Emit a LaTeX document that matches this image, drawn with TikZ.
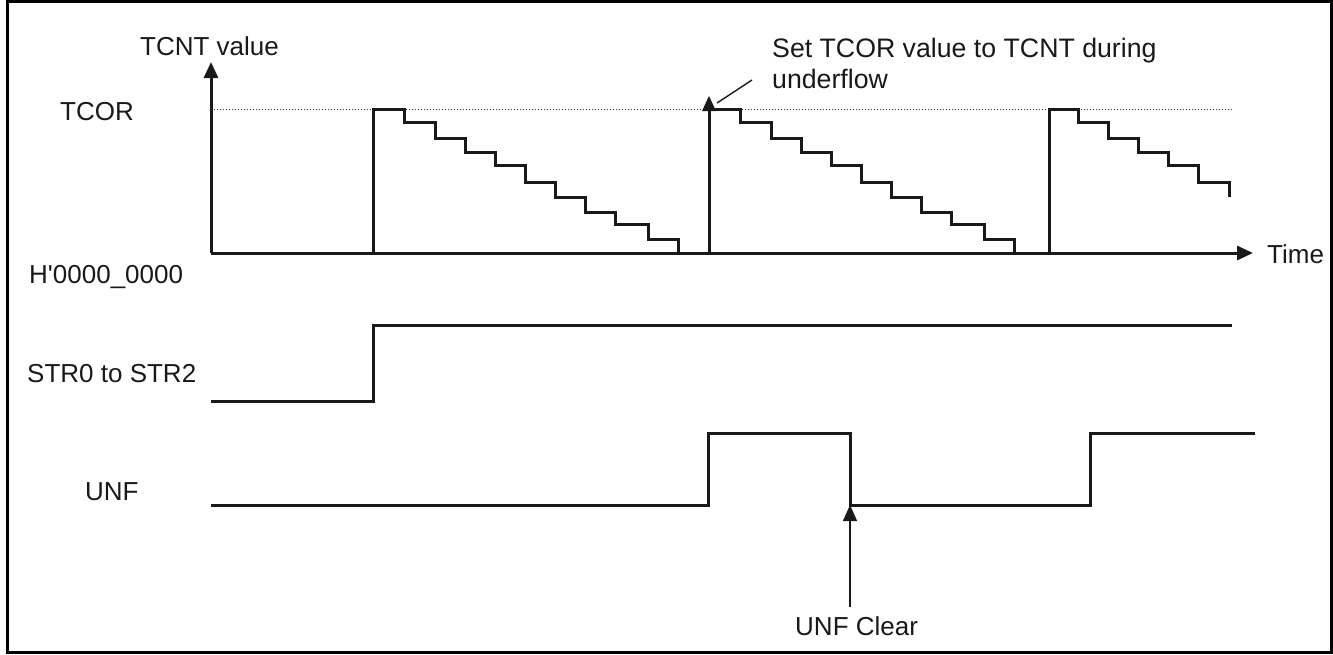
\documentclass[tikz,border=0pt]{standalone}
\usepackage{fontspec}
\setmainfont{Liberation Sans}
\newfontfamily\lsans{Liberation Sans}
\usetikzlibrary{arrows.meta}
\tikzset{
  sig/.style={line width=3pt, line join=miter, color=black!90},
  axis/.style={line width=3pt, -{Triangle[length=16pt,width=14pt]}, color=black!90},
  lead/.style={line width=1.4pt, color=black!90},
  ref/.style={dotted, line width=1pt, color=black!80},
  lbl/.style={anchor=base west, inner sep=0pt, font=\lsans\fontsize{26}{31}\selectfont, text=black!90},
}
\begin{document}
\begin{tikzpicture}[x=1pt,y=-1pt]
\useasboundingbox (0,0) rectangle (1333,654);
\draw[line width=2.5pt] (7.5,1.5) rectangle (1331.5,652.5);
% axes
\coordinate (O) at (211,253);
\coordinate (Ytip) at (211,62);
\coordinate (Xtip) at (1253,253);
\draw[ref] (211,109) -- (1232,109);
\draw[axis] (O) -- (Ytip);
\draw[axis] (O) -- (Xtip);
% ramps
\foreach \s in {0,336}{
\draw[sig, shift={(\s,0)}] (373,253) -- (373,109) -- (404,109) -- (404,122) -- (435,122) -- (435,138) -- (465,138) -- (465,152) -- (495,152) -- (495,165) -- (525,165) -- (525,182) -- (555,182) -- (555,197) -- (585,197) -- (585,212) -- (615,212) -- (615,224) -- (648,224) -- (648,239) -- (678,239) -- (678,253);
}
\draw[sig] (1049,253) -- (1049,109) -- (1078,109) -- (1078,122) -- (1108,122) -- (1108,138) -- (1138,138) -- (1138,152) -- (1168,152) -- (1168,165) -- (1198,165) -- (1198,182) -- (1229,182) -- (1229,197);
% underflow arrowhead + leader
\fill[black!90] (709,96) -- (702,111) -- (716,111) -- cycle;
\coordinate (Lead) at (752,80);
\coordinate (LeadEnd) at (717,103);
\draw[lead] (Lead) -- (LeadEnd);
% STR
\draw[sig] (211,401) -- (373,401) -- (373,325) -- (1232,325);
% UNF
\draw[sig] (211,505) -- (708,505) -- (708,433) -- (850,433) -- (850,505) -- (1090,505) -- (1090,433) -- (1255,433);
\coordinate (Clr) at (850,607);
\coordinate (ClrTip) at (850,505);
\draw[lead, -{Triangle[length=16pt,width=14pt]}] (Clr) -- (ClrTip);
% labels
\node[lbl] (tcnt) at (140,55) {TCNT value};
\node[lbl] (tcor) at (60,120) {TCOR};
\node[lbl] (zero) at (29,283) {H'0000\_0000};
\node[lbl] (str) at (27,382) {STR0 to STR2};
\node[lbl] (unf) at (85,500) {UNF};
\node[lbl, font=\lsans\fontsize{26.7}{31}\selectfont] (set1) at (772,57) {Set TCOR value to TCNT during};
\node[lbl, font=\lsans\fontsize{26.7}{31}\selectfont] (set2) at (772,88) {underflow};
\node[lbl] (time) at (1267,263) {Time};
\node[lbl] (clear) at (795,635) {UNF Clear};
\end{tikzpicture}
\end{document}
